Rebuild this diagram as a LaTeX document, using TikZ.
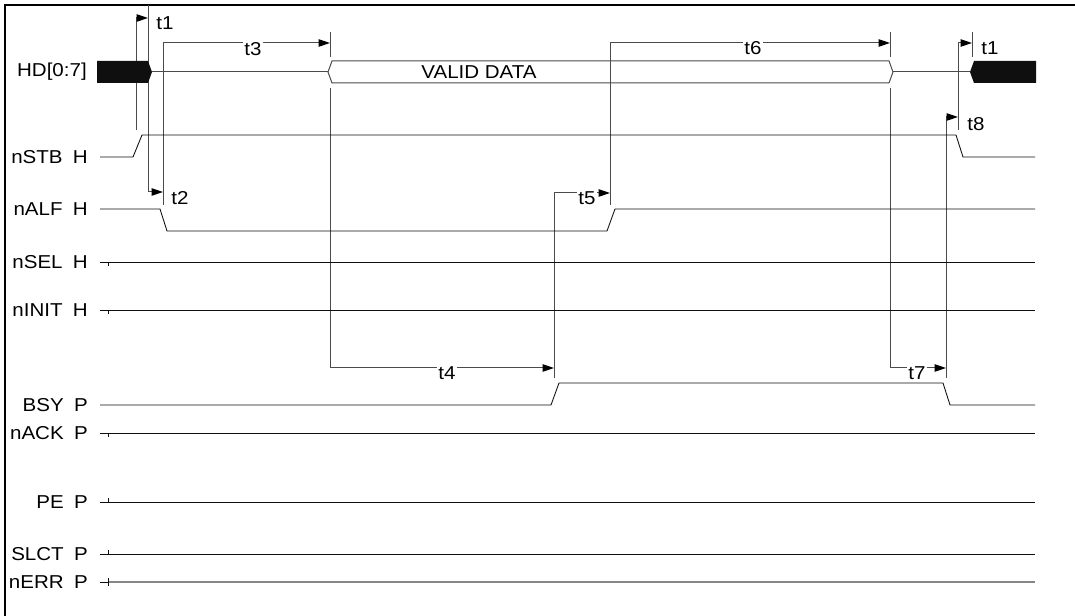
\documentclass[tikz,border=0pt]{standalone}
\usepackage{fontspec}
\setmainfont{Liberation Sans}[FakeStretch=1.1]
\usetikzlibrary{arrows.meta, positioning, calc}
\definecolor{sigBlack}{RGB}{15,15,15}
\definecolor{dimGray}{RGB}{75,75,75}
\definecolor{errGray}{RGB}{135,135,135}

\begin{document}
\begin{tikzpicture}[x=0.75pt, y=-0.75pt]
    \tikzstyle{sig} = [draw=sigBlack, line width=0.65pt]
    \tikzstyle{dim} = [draw=dimGray, line width=0.75pt]
    \tikzstyle{dimarrow} = [dim, -{Triangle[length=8.5pt, width=5.5pt, color=black]}]
    \tikzstyle{signame} = [anchor=east, inner sep=0pt, font=\fontsize{14}{16}\selectfont]
    \tikzstyle{tname} = [inner sep=1pt, fill=white, font=\fontsize{14}{16}\selectfont]

    \useasboundingbox (0,0) rectangle (1075,616);
    \draw[line width=1.9pt] (5,616) -- (5,5) -- (1075,5);

    % signal names
    \node[signame] (hdName) at (87,72) {HD[0:7]};
    \node[signame] (nstbName) at (88,157) {nSTB\hspace{0.55em}H};
    \node[signame] (nalfName) at (88,209) {nALF\hspace{0.55em}H};
    \node[signame] (nselName) at (88,262) {nSEL\hspace{0.55em}H};
    \node[signame] (ninitName) at (88,310) {nINIT\hspace{0.55em}H};
    \node[signame] (bsyName) at (88,405) {BSY\hspace{0.55em}P};
    \node[signame] (nackName) at (88,433) {nACK\hspace{0.55em}P};
    \node[signame] (peName) at (88,502) {PE\hspace{0.55em}P};
    \node[signame] (slctName) at (88,554) {SLCT\hspace{0.55em}P};
    \node[signame] (nerrName) at (88,582) {nERR\hspace{0.55em}P};

    % timing marks
    \coordinate (mA) at (136,18);
    \coordinate (mB) at (148,18);
    \coordinate (mC) at (163,43);
    \coordinate (mD) at (330,43);
    \coordinate (mE) at (554,193);
    \coordinate (mF) at (610,43);
    \coordinate (mG) at (890,43);
    \coordinate (mH) at (946,117);
    \coordinate (mI) at (958,43);
    \coordinate (mJ) at (972,43);

    \draw[dim] (mA) -- ++(0,112);
    \draw[dim] (148,5) -- (148,192);
    \draw[dimarrow] (mA) -- (mB);
    \node[tname] (t1Left) at (165,23) {t1};

    \draw[dim] (mC) -- ++(0,162);
    \draw[dimarrow] (148,192) -- (mC |- 0,192);
    \node[tname, fill=none] (t2Lbl) at (180,198) {t2};

    \draw[dimarrow] (mC) -- (mD);
    \node[tname] (t3Lbl) at (253,49) {t3};
    \draw[dim] (330,32) -- (330,57);
    \draw[dim] (330,88) -- (330,368);

    \draw[dimarrow] (330,368) -- (mE |- 0,368);
    \node[tname] (t4Lbl) at (447,373) {t4};
    \draw[dim] (mE) -- ++(0,185);

    \draw[dimarrow] (mE) -- (mF |- mE);
    \node[tname] (t5Lbl) at (587,198) {t5};
    \draw[dim] (mF) -- ++(0,162);

    \draw[dimarrow] (mF) -- (mG);
    \node[tname] (t6Lbl) at (753,48) {t6};
    \draw[dim] (890,32) -- (890,57);
    \draw[dim] (890,88) -- (890,368);

    \draw[dimarrow] (890,368) -- (mH |- 0,368);
    \node[tname] (t7Lbl) at (917,373) {t7};
    \draw[dim] (mH) -- ++(0,261);

    \draw[dimarrow] (mH) -- (mI |- mH);
    \node[tname, fill=none] (t8Lbl) at (976,124) {t8};
    \draw[dim] (mI) -- ++(0,87);

    \draw[dimarrow] (mI) -- (mJ);
    \draw[dim] (972,32) -- (972,57);
    \node[tname, fill=none] (t1Right) at (990,48) {t1};

    % HD bus
    \fill[sigBlack] (97,61) -- (148,61) -- (152,72) -- (148,83) -- (97,83) -- cycle;
    \draw[dim] (152,72) -- (328,72);
    \draw[dim] (328,72) -- (332,61) -- (889,61) -- (893,72) -- (889,83) -- (332,83) -- cycle;
    \node[signame, anchor=center] (validData) at (479,72) {VALID DATA};
    \draw[dim] (893,72) -- (970,72);
    \fill[sigBlack] (970,72) -- (974,61) -- (1036,61) -- (1036,83) -- (974,83) -- cycle;

    % control lines
    \draw[sig] (100,157) -- (133,157) -- (142,135) -- (956,135) -- (963,157) -- (1035,157);
    \draw[sig] (100,209) -- (160,209) -- (167,231) -- (607,231) -- (615,209) -- (1035,209);
    \draw[sig] (100,262) -- (1035,262);
    \draw[sig] (108,262) -- ++(0,4);
    \draw[sig] (100,310) -- (1035,310);
    \draw[sig] (108,310) -- ++(0,4);
    \draw[sig] (100,405) -- (551,405) -- (559,383) -- (943,383) -- (950,405) -- (1035,405);
    \draw[sig] (100,433) -- (1035,433);
    \draw[sig] (108,433) -- ++(0,4);
    \draw[sig] (100,502) -- (1035,502);
    \draw[sig] (108,502) -- ++(0,-4);
    \draw[sig] (100,554) -- (1035,554);
    \draw[sig] (108,554) -- ++(0,-4);
    \draw[sig] (100,582) -- (108,582);
    \draw[errGray, line width=1.5pt] (108,582) -- (1035,582);
    \draw[sig] (108,578) -- ++(0,8);
\end{tikzpicture}
\end{document}
